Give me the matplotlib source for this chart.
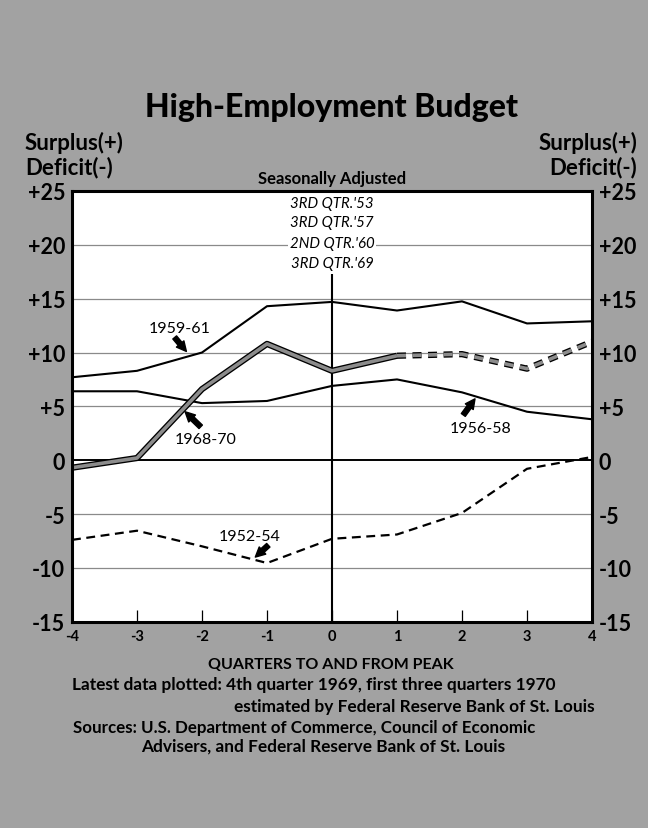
import matplotlib
matplotlib.use("Agg")
import matplotlib.pyplot as plt
import matplotlib.patheffects as pe

# data (surplus/deficit, $ billions)
quarters = [-4, -3, -2, -1, 0, 1, 2, 3, 4]
s1959_61 = [7.7, 8.3, 10.0, 14.3, 14.7, 13.9, 14.75, 12.7, 12.9]
s1956_58 = [6.4, 6.4, 5.3, 5.5, 6.9, 7.5, 6.3, 4.5, 3.8]
s1952_54 = [-7.4, -6.55, -8.0, -9.55, -7.3, -6.9, -4.9, -0.8, 0.3]
q1968_act = [-4, -3, -2, -1, 0, 1]
s1968_act = [-0.7, 0.2, 6.6, 10.8, 8.3, 9.7]
q1968_est = [1, 2, 3, 4]
s1968_est = [9.7, 9.85, 8.5, 11.0]

yticks = [25, 20, 15, 10, 5, 0, -5, -10, -15]
ylabels = ["+25", "+20", "+15", "+10", "+5", "0", "-5", "-10", "-15"]
xlabels = ["-4", "-3", "-2", "-1", "0", "1", "2", "3", "4"]
peak_labels = ["3RD QTR.'53", "3RD QTR.'57", "2ND QTR.'60", "3RD QTR.'69"]

W, H = 648, 829
BG = "#a2a2a2"
FONT = "Lato"

fig = plt.figure(figsize=(W / 100, H / 100), dpi=100, facecolor=BG)


def px(x, y):
    return x / W, 1 - y / H


ax = fig.add_axes([72 / W, 1 - 622.7 / H, 520 / W, 430.7 / H])
ax.set_facecolor("white")
ax.set_xlim(-4, 4)
ax.set_ylim(-15, 25)

for v in [20, 15, 10, 5, -5, -10]:
    ax.axhline(v, color="#8a8a8a", lw=0.9, zorder=1)
ax.axhline(0, color="black", lw=1.4, zorder=2)
ax.vlines(0, -15, 17.3, color="black", lw=1.5, zorder=2)

ax.plot(quarters, s1959_61, color="black", lw=1.5, zorder=3)
ax.plot(quarters, s1956_58, color="black", lw=1.5, zorder=3)
ax.plot(quarters, s1952_54, color="black", lw=1.6, ls=(0, (4, 2.5)), zorder=3)

outline = [pe.Stroke(linewidth=4.5, foreground="black"), pe.Normal()]
ax.plot(q1968_act, s1968_act, color="#8c8c8c", lw=2.6, zorder=4,
        path_effects=outline, solid_capstyle="butt")
ax.plot(q1968_est, s1968_est, color="#8c8c8c", lw=2.6, ls=(0, (2.5, 1.8)),
        zorder=4, path_effects=outline, dash_capstyle="butt")

for sp in ax.spines.values():
    sp.set_linewidth(2.2)
    sp.set_zorder(6)

ax.set_xticks(quarters)
ax.set_xticklabels(xlabels)
ax.set_yticks(yticks)
ax.set_yticklabels(ylabels)
ax.tick_params(axis="x", direction="in", length=9, width=0.9, pad=5,
               labelsize=10.5, colors="black")
ax.tick_params(axis="y", length=0, pad=5, labelsize=15.5, labelleft=True,
               labelright=True)
for lab in ax.get_yticklabels() + ax.get_xticklabels():
    lab.set_fontfamily(FONT)
    lab.set_fontweight("bold")

# peak labels at quarter 0
peak_y = [23.9, 22.1, 20.2, 18.3]
for lab, yy in zip(peak_labels, peak_y):
    ax.text(0, yy, lab, ha="center", va="center", fontsize=10.8,
            fontfamily=FONT, fontstyle="italic", zorder=5,
            bbox=dict(boxstyle="square,pad=0.1", fc="white", ec="none"))

# series labels with arrows
arrow = dict(arrowstyle="simple,head_length=0.7,head_width=0.7,tail_width=0.35",
             color="black", shrinkA=0, shrinkB=0)
series_notes = [
    ("1959-61", (-2.35, 12.3), (-2.42, 11.4), (-2.24, 10.1)),
    ("1968-70", (-1.94, 2.0), (-2.02, 3.1), (-2.26, 4.5)),
    ("1956-58", (2.28, 3.0), (2.02, 4.2), (2.2, 5.7)),
    ("1952-54", (-1.26, -7.0), (-0.98, -7.9), (-1.18, -9.0)),
]
for name, txy, tail, head in series_notes:
    ax.text(txy[0], txy[1], name, ha="center", va="center", fontsize=11.5,
            fontfamily=FONT, zorder=5)
    ax.annotate("", xy=head, xytext=tail, arrowprops=arrow, zorder=5)

# texts in the gray area
fig.text(*px(331, 108), "High-Employment Budget", ha="center", va="center",
         fontsize=23, fontweight="black", fontfamily=FONT)
for x, ha in [(25, "left"), (637, "right")]:
    fig.text(*px(x, 143), "Surplus(+)", ha=ha, va="center", fontsize=16,
             fontweight="bold", fontfamily=FONT)
    fig.text(*px(x, 168), "Deficit(-)", ha=ha, va="center", fontsize=16,
             fontweight="bold", fontfamily=FONT)
fig.text(*px(332, 179), "Seasonally Adjusted", ha="center", va="center",
         fontsize=12, fontweight="bold", fontfamily=FONT)

fig.text(*px(331, 665), "QUARTERS TO AND FROM PEAK", ha="center", va="center",
         fontsize=11.5, fontweight="bold", fontfamily=FONT)
fig.text(*px(72, 685),
         "Latest data plotted: 4th quarter 1969, first three quarters 1970",
         ha="left", va="center", fontsize=12.4, fontweight="bold", fontfamily=FONT)
fig.text(*px(595, 707), "estimated by Federal Reserve Bank of St. Louis",
         ha="right", va="center", fontsize=12.4, fontweight="bold", fontfamily=FONT)
fig.text(*px(73, 728), "Sources: U.S. Department of Commerce, Council of Economic",
         ha="left", va="center", fontsize=12.2, fontweight="bold", fontfamily=FONT)
fig.text(*px(323, 747), "Advisers, and Federal Reserve Bank of St. Louis",
         ha="center", va="center", fontsize=12.4, fontweight="bold", fontfamily=FONT)

fig.savefig("out.png", dpi=100, facecolor=BG)
